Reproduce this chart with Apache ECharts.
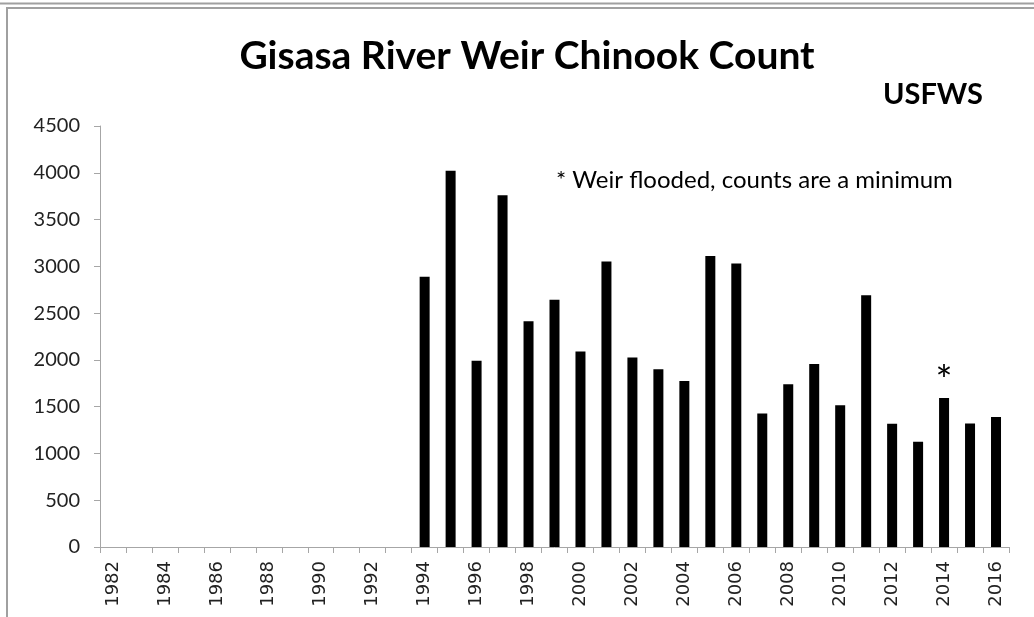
<!DOCTYPE html>
<html>
<head>
<meta charset="utf-8">
<script src="https://cdn.jsdelivr.net/npm/echarts@6/dist/echarts.min.js"></script>
<style>
  html, body { margin: 0; padding: 0; background: #fff; }
  #chart { width: 1034px; height: 617px; }
</style>
</head>
<body>
<div id="chart"></div>
<script>
// Gisasa River weir Chinook salmon counts by year
const years = ['1982','1983','1984','1985','1986','1987','1988','1989','1990','1991','1992','1993',
  '1994','1995','1996','1997','1998','1999','2000','2001','2002','2003','2004','2005',
  '2006','2007','2008','2009','2010','2011','2012','2013','2014','2015','2016'];
const counts = [null,null,null,null,null,null,null,null,null,null,null,null,
  2888, 4023, 1991, 3761, 2414, 2644, 2089, 3052, 2025, 1901, 1774, 3111,
  3031, 1427, 1740, 1955, 1516, 2690, 1317, 1125, 1593, 1320, 1389];
// years when the weir flooded (count is a minimum)
const floodedYears = ['2014'];
const yTicks = [0, 500, 1000, 1500, 2000, 2500, 3000, 3500, 4000, 4500];

const calibriLike = 'Lato, "Open Sans", sans-serif';

const barData = counts.map((v, i) => {
  if (floodedYears.includes(years[i])) {
    return {
      value: v,
      label: {
        show: true, position: 'top', distance: -4, formatter: '*',
        fontSize: 40, color: '#000', fontFamily: calibriLike
      }
    };
  }
  return v;
});

const chart = echarts.init(document.getElementById('chart'), null, { renderer: 'canvas' });
chart.setOption({
  animation: false,
  backgroundColor: '#fff',
  title: {
    text: 'Gisasa River Weir Chinook Count',
    left: 522, textAlign: 'center', top: 32,
    textStyle: { fontFamily: calibriLike, fontWeight: 'bold', fontSize: 39, color: '#000' }
  },
  grid: { left: 100, right: 25, top: 126, bottom: 70, containLabel: false },
  xAxis: {
    type: 'category',
    data: years,
    boundaryGap: true,
    axisLine: { lineStyle: { color: '#a6a6a6', width: 1 } },
    axisTick: { show: true, interval: 0, length: 6, lineStyle: { color: '#a6a6a6' } },
    axisLabel: {
      interval: 1, rotate: 90, margin: 14,
      fontFamily: '"DejaVu Sans", sans-serif', fontSize: 18, color: '#222'
    },
    splitLine: { show: false }
  },
  yAxis: {
    type: 'value',
    min: yTicks[0], max: yTicks[yTicks.length - 1], interval: 500,
    axisLine: { show: true, lineStyle: { color: '#a6a6a6', width: 1 } },
    axisTick: { show: true, length: 6, lineStyle: { color: '#a6a6a6' } },
    axisLabel: {
      margin: 20, fontFamily: calibriLike, fontSize: 20, color: '#222',
      formatter: (v) => String(v)
    },
    splitLine: { show: false }
  },
  series: [{
    type: 'bar',
    data: barData,
    barWidth: 10,
    itemStyle: { color: '#000' }
  }],
  graphic: [
    // outer frame lines
    { type: 'line', silent: true, shape: { x1: 0, y1: 3.5, x2: 1034, y2: 3.5 }, style: { stroke: '#a0a0a0', lineWidth: 2 } },
    { type: 'line', silent: true, shape: { x1: 6, y1: 8, x2: 1034, y2: 8 }, style: { stroke: '#a0a0a0', lineWidth: 2 } },
    { type: 'line', silent: true, shape: { x1: 7, y1: 8, x2: 7, y2: 617 }, style: { stroke: '#a0a0a0', lineWidth: 2 } },
    {
      type: 'text', left: 883, top: 80,
      style: { text: 'USFWS', fontFamily: calibriLike, fontWeight: 'bold', fontSize: 29, fill: '#000' }
    },
    {
      type: 'text', left: 556, top: 168,
      style: { text: '* Weir flooded, counts are a minimum', fontFamily: calibriLike, fontSize: 24, fill: '#000' }
    }
  ]
});
</script>
</body>
</html>
